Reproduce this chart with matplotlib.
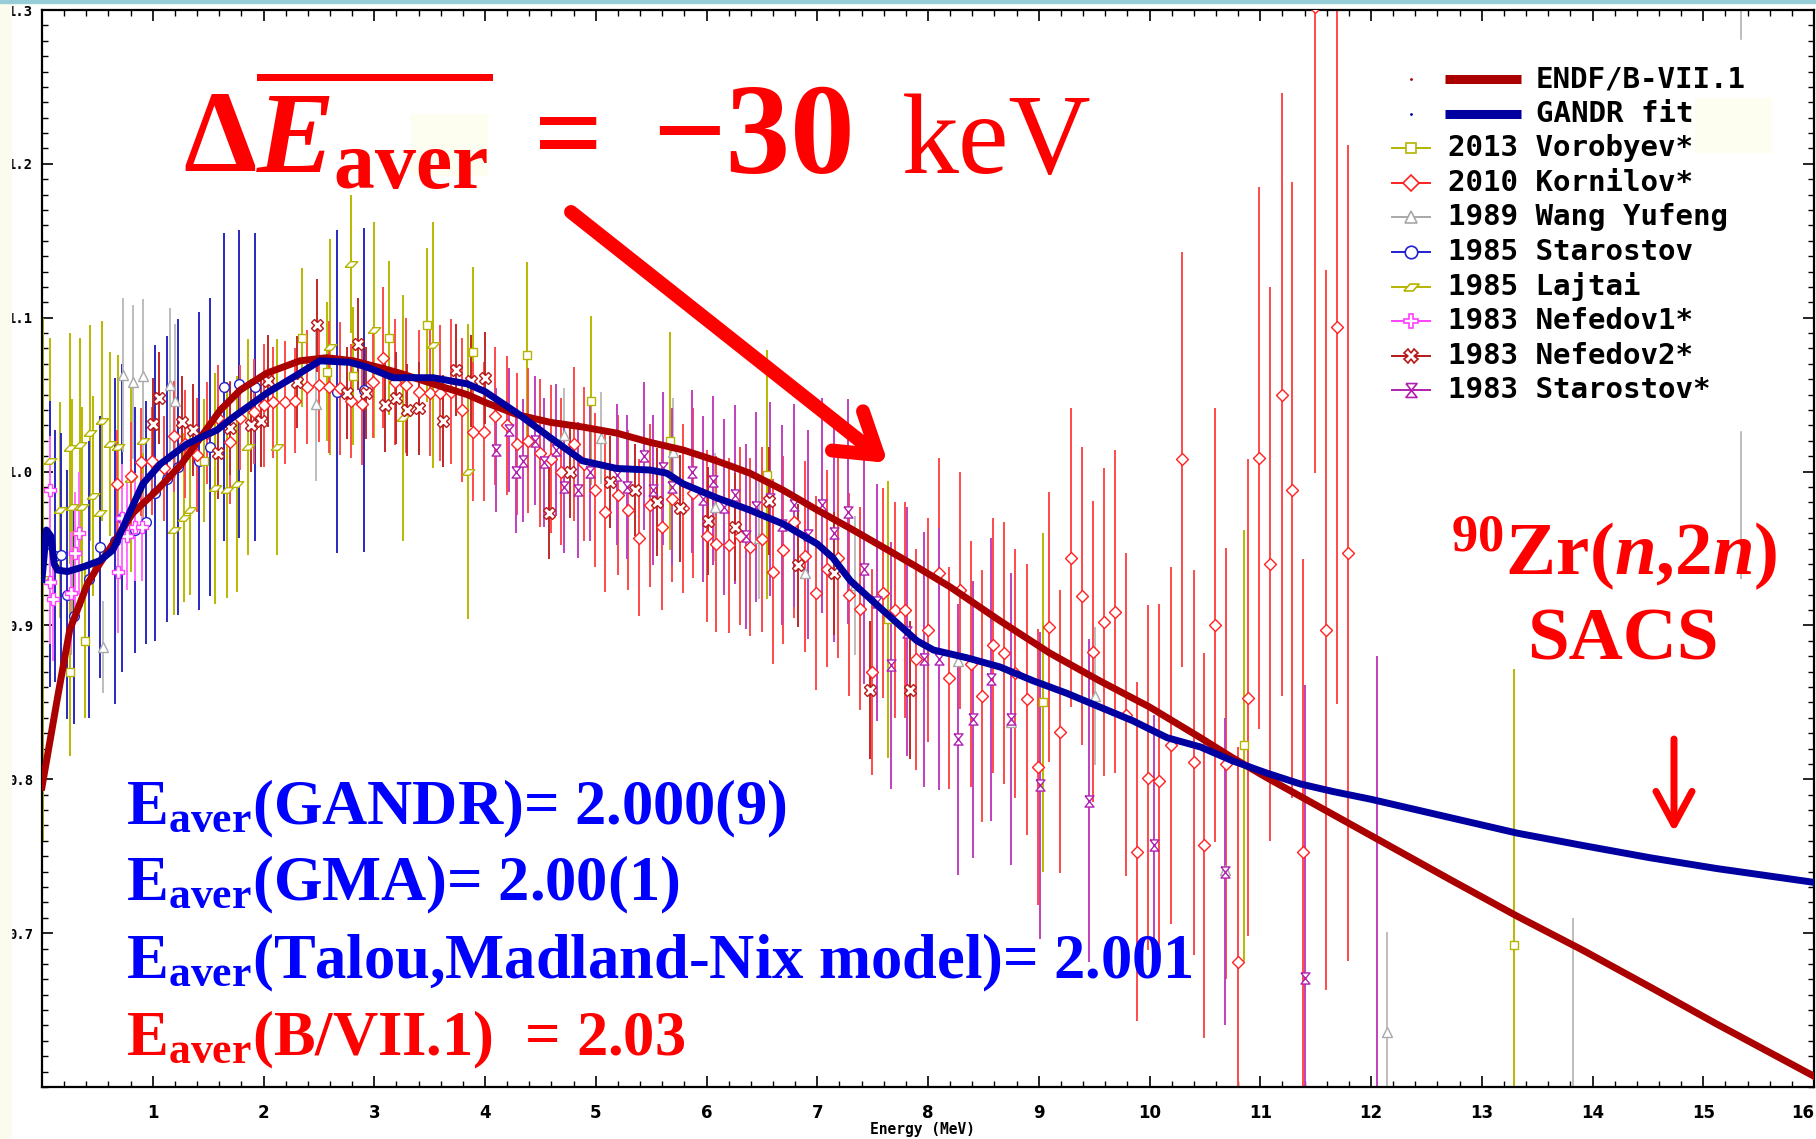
import numpy as np
import matplotlib.pyplot as plt
from matplotlib.lines import Line2D
from matplotlib.patches import Rectangle
from matplotlib.ticker import MultipleLocator

plt.rcParams['mathtext.fontset'] = 'custom'
plt.rcParams['mathtext.rm'] = 'Liberation Serif:bold'
plt.rcParams['mathtext.bf'] = 'Liberation Serif:bold'
plt.rcParams['mathtext.it'] = 'Liberation Serif:italic:bold'
plt.rcParams['mathtext.sf'] = 'Liberation Serif'

# evaluated spectra (ratio to Maxwellian)
endf_e = [0.0, 0.14, 0.25, 0.41, 0.52, 0.64, 0.82, 1.04, 1.26, 1.43, 1.61, 1.79, 2.03,
          2.33, 2.57, 2.81, 3.08, 3.23, 3.53, 3.84, 4.0, 4.29, 4.59, 4.88, 5.19, 5.49,
          5.79, 6.09, 6.39, 6.69, 7.0, 7.30, 7.59, 7.90, 8.2, 8.65, 9.10, 9.55, 10.0,
          10.46, 10.75, 11.06, 11.36, 11.81, 12.26, 12.71, 13.32, 13.91, 14.52, 15.12, 16.0]
endf_y = [0.795, 0.853, 0.897, 0.927, 0.940, 0.953, 0.973, 0.988, 1.005, 1.022, 1.040,
          1.053, 1.064, 1.072, 1.074, 1.072, 1.067, 1.064, 1.057, 1.050, 1.045, 1.037,
          1.032, 1.029, 1.025, 1.019, 1.014, 1.007, 0.999, 0.988, 0.975, 0.963, 0.951,
          0.938, 0.925, 0.903, 0.882, 0.864, 0.847, 0.827, 0.814, 0.801, 0.789, 0.771,
          0.753, 0.735, 0.711, 0.689, 0.665, 0.641, 0.607]

gandr_e = [0.0, 0.04, 0.08, 0.11, 0.14, 0.23, 0.37, 0.52, 0.64, 0.77, 0.91, 1.07, 1.31,
           1.58, 1.72, 2.03, 2.33, 2.51, 2.78, 2.93, 3.17, 3.53, 3.84, 4.0, 4.29, 4.59,
           4.88, 5.19, 5.49, 5.64, 5.79, 6.09, 6.39, 6.69, 7.0, 7.14, 7.30, 7.59, 7.90,
           8.05, 8.35, 8.65, 8.95, 9.25, 9.55, 9.85, 10.16, 10.46, 10.75, 11.06, 11.36,
           11.66, 12.0, 12.42, 13.32, 13.91, 14.52, 15.12, 16.0]
gandr_y = [0.93, 0.962, 0.958, 0.940, 0.936, 0.935, 0.938, 0.942, 0.949, 0.970, 0.992,
           1.005, 1.018, 1.027, 1.035, 1.051, 1.064, 1.072, 1.071, 1.068, 1.061, 1.061,
           1.057, 1.052, 1.038, 1.022, 1.007, 1.002, 1.001, 0.999, 0.992, 0.983, 0.975,
           0.966, 0.953, 0.944, 0.929, 0.910, 0.890, 0.884, 0.879, 0.873, 0.864, 0.856,
           0.847, 0.838, 0.827, 0.821, 0.812, 0.804, 0.797, 0.792, 0.787, 0.780, 0.765,
           0.757, 0.749, 0.742, 0.733]

# experimental data: energy (MeV), ratio, uncertainty
vorobyev_e = [0.25, 0.39, 1.46, 2.35, 2.57, 2.81, 3.13, 3.48, 3.89, 4.38, 4.96, 5.67,
              6.55, 7.64, 9.04, 10.85, 13.29]
vorobyev_y = [0.870, 0.890, 1.007, 1.087, 1.065, 1.062, 1.087, 1.095, 1.078, 1.076,
              1.046, 1.020, 0.998, 0.904, 0.850, 0.822, 0.692]
vorobyev_err = [0.055, 0.05, 0.04, 0.045, 0.045, 0.045, 0.05, 0.05, 0.055, 0.06, 0.055,
                0.071, 0.081, 0.09, 0.11, 0.14, 0.18]

kornilov_e = [0.68, 0.80, 0.89, 0.99, 1.10, 1.19, 1.29, 1.40, 1.49, 1.59, 1.70, 1.79,
              1.91, 2.00, 2.09, 2.19, 2.28, 2.39, 2.50, 2.59, 2.69, 2.79, 2.89, 2.99,
              3.08, 3.19, 3.29, 3.40, 3.50, 3.59, 3.69, 3.79, 3.89, 3.99, 4.09, 4.20,
              4.29, 4.39, 4.50, 4.60, 4.69, 4.80, 4.89, 4.99, 5.08, 5.20, 5.29, 5.39,
              5.49, 5.60, 5.69, 5.79, 5.88, 6.00, 6.09, 6.20, 6.30, 6.39, 6.50, 6.60,
              6.69, 6.79, 6.89, 6.99, 7.09, 7.19, 7.29, 7.39, 7.49, 7.59, 7.70, 7.79,
              7.89, 8.00, 8.10, 8.19, 8.29, 8.39, 8.49, 8.59, 8.69, 8.79, 8.89, 8.99,
              9.09, 9.19, 9.29, 9.39, 9.49, 9.59, 9.69, 9.79, 9.89, 9.99, 10.09, 10.19,
              10.29, 10.40, 10.49, 10.59, 10.69, 10.80, 10.89, 10.99, 11.09, 11.20,
              11.29, 11.39, 11.49, 11.59, 11.69, 11.79]
kornilov_y = [0.992, 0.997, 1.006, 1.007, 1.002, 1.023, 1.018, 1.011, 1.025, 1.035,
              1.019, 1.035, 1.039, 1.043, 1.045, 1.045, 1.046, 1.055, 1.056, 1.055,
              1.054, 1.046, 1.044, 1.058, 1.074, 1.058, 1.056, 1.052, 1.051, 1.051,
              1.052, 1.040, 1.026, 1.026, 1.036, 1.030, 1.018, 1.020, 1.012, 1.008,
              1.000, 1.018, 1.005, 0.988, 0.974, 0.985, 0.975, 0.957, 0.978, 0.964,
              0.982, 0.976, 0.986, 0.958, 0.953, 0.952, 0.958, 0.951, 0.956, 0.935,
              0.949, 0.967, 0.945, 0.921, 0.937, 0.944, 0.920, 0.911, 0.870, 0.921,
              0.910, 0.910, 0.878, 0.897, 0.934, 0.866, 0.923, 0.875, 0.854, 0.887,
              0.882, 0.869, 0.852, 0.808, 0.899, 0.831, 0.944, 0.919, 0.883, 0.902,
              0.909, 0.842, 0.753, 0.801, 0.799, 0.822, 1.008, 0.811, 0.757, 0.900,
              0.810, 0.681, 0.853, 1.009, 0.940, 1.050, 0.988, 0.753, 1.302, 0.897,
              1.094, 0.947]
kornilov_err = [0.035, 0.035, 0.035, 0.035, 0.034, 0.036, 0.035, 0.037, 0.033, 0.034,
                0.040, 0.034, 0.034, 0.040, 0.036, 0.040, 0.034, 0.037, 0.037, 0.043,
                0.043, 0.037, 0.040, 0.036, 0.046, 0.041, 0.044, 0.040, 0.041, 0.044,
                0.047, 0.047, 0.045, 0.045, 0.045, 0.045, 0.046, 0.047, 0.048, 0.048,
                0.048, 0.050, 0.050, 0.050, 0.052, 0.052, 0.052, 0.051, 0.053, 0.054,
                0.054, 0.055, 0.055, 0.056, 0.057, 0.057, 0.058, 0.058, 0.060, 0.060,
                0.061, 0.062, 0.062, 0.063, 0.064, 0.065, 0.066, 0.066, 0.067, 0.068,
                0.070, 0.070, 0.072, 0.073, 0.075, 0.072, 0.077, 0.080, 0.082, 0.083,
                0.085, 0.081, 0.088, 0.090, 0.088, 0.092, 0.097, 0.097, 0.098, 0.100,
                0.105, 0.105, 0.110, 0.112, 0.115, 0.116, 0.135, 0.125, 0.125, 0.141,
                0.140, 0.140, 0.155, 0.176, 0.180, 0.196, 0.200, 0.190, 0.303, 0.234,
                0.245, 0.265]

wang_e = [0.55, 0.73, 0.82, 0.91, 1.16, 1.20, 2.47, 4.71, 5.05, 5.70, 6.08, 6.47, 6.89,
          7.34, 8.27, 8.75, 9.51, 10.68, 12.14, 13.82, 15.34]
wang_y = [0.886, 1.063, 1.058, 1.062, 1.056, 1.046, 1.044, 1.024, 1.022, 1.013, 0.977,
          0.957, 0.934, 0.926, 0.877, 0.837, 0.854, 0.741, 0.636, 0.58, 1.22]
wang_err = [0.03, 0.05, 0.05, 0.05, 0.05, 0.05, 0.05, 0.03, 0.03, 0.035, 0.035, 0.04,
            0.045, 0.045, 0.03, 0.03, 0.045, 0.045, 0.065, 0.13, 0.29]

starostov85_e = [0.07, 0.12, 0.17, 0.23, 0.29, 0.42, 0.52, 0.66, 0.72, 0.84, 0.94, 1.02,
                 1.13, 1.23, 1.42, 1.52, 1.64, 1.78, 1.92, 2.66, 2.91]
starostov85_y = [0.953, 0.945, 0.946, 0.920, 0.906, 0.930, 0.951, 0.955, 0.970, 0.962,
                 0.967, 0.986, 0.995, 1.003, 1.007, 1.016, 1.055, 1.057, 1.055, 1.052,
                 1.053]
starostov85_err = [0.093, 0.082, 0.079, 0.081, 0.07, 0.09, 0.085, 0.106, 0.10, 0.08,
                   0.079, 0.096, 0.093, 0.096, 0.097, 0.097, 0.10, 0.10, 0.10, 0.105,
                   0.105]

lajtai_e = [0.01, 0.07, 0.16, 0.25, 0.27, 0.34, 0.36, 0.43, 0.46, 0.52, 0.54, 0.61,
            0.69, 0.80, 0.91, 1.19, 1.28, 1.34, 1.56, 1.67, 1.76, 1.86, 2.12, 2.60,
            2.79, 3.00, 3.26, 3.53, 3.85]
lajtai_y = [0.93, 1.007, 0.975, 1.015, 0.977, 1.017, 0.977, 1.025, 0.984, 0.973, 1.033,
            1.018, 1.016, 0.995, 1.020, 0.962, 0.970, 0.975, 0.989, 0.988, 0.992, 1.016,
            1.016, 1.081, 1.135, 1.092, 1.035, 1.082, 1.000]
lajtai_err = [0.17, 0.08, 0.07, 0.075, 0.07, 0.07, 0.065, 0.07, 0.065, 0.06, 0.065, 0.06,
              0.06, 0.06, 0.06, 0.055, 0.055, 0.055, 0.075, 0.07, 0.07, 0.07, 0.07, 0.07,
              0.045, 0.07, 0.08, 0.08, 0.096]

nefedov1_e = [0.07, 0.07, 0.10, 0.26, 0.30, 0.33, 0.69, 0.72, 0.77, 0.84, 0.90]
nefedov1_y = [0.988, 0.928, 0.917, 0.921, 0.947, 0.960, 0.935, 0.970, 0.958, 0.964, 0.964]
nefedov1_err = [0.035, 0.04, 0.04, 0.04, 0.04, 0.04, 0.04, 0.035, 0.035, 0.035, 0.035]

nefedov2_e = [1.00, 1.06, 1.26, 1.36, 1.59, 1.70, 1.89, 1.98, 2.04, 2.30, 2.48, 2.75,
              2.85, 2.93, 3.10, 3.20, 3.30, 3.40, 3.62, 3.74, 3.87, 4.00, 4.58, 4.77,
              5.13, 5.35, 5.55, 5.76, 6.01, 6.26, 6.56, 6.83, 7.15, 7.48, 7.84]
nefedov2_y = [1.031, 1.048, 1.032, 1.027, 1.012, 1.028, 1.030, 1.033, 1.059, 1.058,
              1.095, 1.051, 1.083, 1.051, 1.043, 1.048, 1.040, 1.041, 1.033, 1.066,
              1.059, 1.061, 0.973, 1.000, 0.993, 0.988, 0.980, 0.976, 0.968, 0.964,
              0.981, 0.939, 0.934, 0.858, 0.858]
nefedov2_err = [0.03] * 22 + [0.03, 0.03, 0.03, 0.03, 0.035, 0.035, 0.035, 0.035, 0.035,
                              0.04, 0.04, 0.045, 0.045]

starostov83_e = [4.10, 4.22, 4.28, 4.34, 4.45, 4.53, 4.64, 4.71, 4.84, 4.95, 5.19, 5.28,
                 5.44, 5.52, 5.61, 5.69, 5.87, 5.97, 6.06, 6.16, 6.26, 6.36, 6.45, 6.57,
                 6.68, 6.79, 6.92, 7.04, 7.15, 7.28, 7.42, 7.54, 7.67, 7.81, 7.96, 8.10,
                 8.27, 8.41, 8.57, 8.75, 9.01, 9.45, 10.04, 10.68, 11.40, 12.05]
starostov83_y = [1.014, 1.027, 1.000, 1.007, 1.020, 1.006, 1.014, 0.990, 0.988, 1.000,
                 0.998, 0.990, 1.010, 0.988, 1.002, 0.990, 1.000, 0.982, 0.994, 0.977,
                 0.985, 0.958, 0.977, 0.982, 0.965, 0.978, 0.959, 0.978, 0.960, 0.974,
                 0.937, 0.915, 0.874, 0.896, 0.878, 0.878, 0.826, 0.839, 0.865, 0.839,
                 0.796, 0.786, 0.757, 0.740, 0.671, 0.58]
starostov83_err = [0.040, 0.040, 0.040, 0.040, 0.042, 0.042, 0.043, 0.043, 0.044, 0.045,
                   0.046, 0.047, 0.048, 0.049, 0.050, 0.051, 0.053, 0.054, 0.055, 0.057,
                   0.058, 0.060, 0.062, 0.063, 0.065, 0.066, 0.068, 0.070, 0.071, 0.073,
                   0.075, 0.077, 0.080, 0.081, 0.083, 0.085, 0.088, 0.090, 0.092, 0.095,
                   0.100, 0.105, 0.085, 0.100, 0.190, 0.300]

legend_labels = ['ENDF/B-VII.1', 'GANDR fit', '2013 Vorobyev*', '2010 Kornilov*',
                 '1989 Wang Yufeng', '1985 Starostov', '1985 Lajtai', '1983 Nefedov1*',
                 '1983 Nefedov2*', '1983 Starostov*']

W, H = 1816, 1139
fig = plt.figure(figsize=(W / 100, H / 100), dpi=100)
ax = fig.add_axes([42 / W, 1 - 1087 / H, 1772 / W, 1077 / H])


def fx(x):
    return x / W


def fy(y):
    return 1 - y / H


# custom markers
para = [(-1, -0.45), (0.2, -0.45), (1, 0.45), (-0.2, 0.45), (-1, -0.45)]
hourglass = [(-0.8, 1), (0.8, 1), (-0.8, -1), (0.8, -1), (-0.8, 1)]

sets = [
    (lajtai_e, lajtai_y, lajtai_err, para, '#b4b400', '#b8b800', 9),
    (starostov85_e, starostov85_y, starostov85_err, 'o', '#2020d0', '#2828c0', 7),
    (wang_e, wang_y, wang_err, '^', '#a8a8a8', '#bdbdbd', 7),
    (nefedov1_e, nefedov1_y, nefedov1_err, 'P', '#ff40ff', '#ff70ff', 8),
    (vorobyev_e, vorobyev_y, vorobyev_err, 's', '#b4b400', '#b8b800', 6),
    (kornilov_e, kornilov_y, kornilov_err, 'D', '#ff2020', '#ff4a4a', 6.5),
    (starostov83_e, starostov83_y, starostov83_err, hourglass, '#b020b0', '#c040c0', 8),
    (nefedov2_e, nefedov2_y, nefedov2_err, 'X', '#b81818', '#c02828', 8),
]
for e, y, err, mk, col, ecol, ms in sets:
    ax.errorbar(e, y, yerr=err, fmt='none', ecolor=ecol, elinewidth=1.4, zorder=2)
for e, y, err, mk, col, ecol, ms in sets:
    ax.plot(e, y, ls='none', marker=mk, ms=ms, mfc='white', mec=col, mew=1.0, zorder=3)

ax.plot(endf_e, endf_y, color='#aa0000', lw=5, zorder=5)
ax.plot(gandr_e, gandr_y, color='#0000a0', lw=5, zorder=6)

ax.set_xlim(0, 16)
ax.set_ylim(0.6, 1.3)
ax.set_xticks(range(17))
ax.set_xticklabels([''] + [str(i) for i in range(1, 17)])
ax.xaxis.set_minor_locator(MultipleLocator(0.2))
yt = [0.7, 0.8, 0.9, 1.0, 1.1, 1.2, 1.3]
ax.set_yticks(yt)
ax.set_yticklabels(['%.1f' % v for v in yt])
ax.yaxis.set_minor_locator(MultipleLocator(0.01))
ax.tick_params(which='both', direction='in', top=True, right=True)
ax.tick_params(which='major', length=8, width=1.2)
ax.tick_params(which='minor', length=4, width=1.0)
ax.tick_params(axis='x', pad=12)
ax.tick_params(axis='y', pad=6.5)
for lbl in ax.get_xticklabels():
    lbl.set_fontfamily(['Liberation Sans Narrow', 'DejaVu Sans'])
    lbl.set_fontweight('bold')
    lbl.set_fontsize(12)
ax.get_xticklabels()[16].set_ha('right')
for lbl in ax.get_yticklabels():
    lbl.set_fontfamily('DejaVu Sans Mono')
    lbl.set_fontweight('bold')
    lbl.set_fontsize(10)
for s in ax.spines.values():
    s.set_linewidth(1.6)

ax.set_xlabel('Energy (MeV)', fontsize=10.5, fontweight='bold', family='DejaVu Sans Mono')
ax.xaxis.set_label_coords((923 - 42) / 1772, -(1122 - 1087) / 1077)

# page edges
fig.add_artist(Rectangle((0, 0), fx(11), 1, transform=fig.transFigure,
                         color='#fcfcee', zorder=1))
fig.add_artist(Rectangle((0, fy(3)), 1, 3 / H, transform=fig.transFigure,
                         color='#96cdd6', zorder=1))

# legend
fig.add_artist(Rectangle((fx(1385), fy(430)), fx(1780 - 1385), (430 - 40) / H,
                         transform=fig.transFigure, color='white', zorder=1))
fig.add_artist(Rectangle((fx(1695), fy(152)), fx(1771 - 1695), (152 - 98) / H,
                         transform=fig.transFigure, color='#fdfdf0', zorder=1.1))
row0, dy = 79, 34.6
for i, col in enumerate(['#aa0000', '#0000a0']):
    yy = fy(row0 + i * dy)
    fig.add_artist(Line2D([fx(1411)], [yy], transform=fig.transFigure, ls='none',
                          marker='.', ms=2, color=col))
    fig.add_artist(Line2D([fx(1445), fx(1521)], [yy, yy], transform=fig.transFigure,
                          color=col, lw=6.5, solid_capstyle='butt'))
    fig.text(fx(1536), yy, legend_labels[i], fontsize=21, fontweight='bold',
             family='DejaVu Sans Mono', va='center', ha='left', color='black')
leg_styles = [('s', '#b4b400', 7), ('D', '#ff2020', 8), ('^', '#a8a8a8', 9),
              ('o', '#2020d0', 9), (para, '#b4b400', 11), ('P', '#ff40ff', 10),
              ('X', '#b81818', 10), (hourglass, '#b020b0', 10)]
for j, (mk, col, ms) in enumerate(leg_styles):
    i = j + 2
    yy = fy(row0 + i * dy)
    fig.add_artist(Line2D([fx(1392), fx(1411), fx(1430)], [yy, yy, yy],
                          transform=fig.transFigure, color=col, lw=1.4, marker=mk,
                          markevery=[1], ms=ms, mfc='white', mec=col, mew=1.2))
    fig.text(fx(1448), yy, legend_labels[i], fontsize=21, fontweight='bold',
             family='DejaVu Sans Mono', va='center', ha='left', color='black')

# headline
fig.add_artist(Rectangle((fx(411), fy(175)), fx(487 - 411), (175 - 114) / H,
                         transform=fig.transFigure, color='#fdfdf0', zorder=1.1))
fig.text(fx(183), fy(173), r'$\Delta\overline{E_{\mathrm{aver}}}$', fontsize=84,
         color='red', va='baseline', ha='left', zorder=10)
fig.text(fx(534), fy(173), '=', fontsize=87, fontweight='bold', family='Liberation Serif',
         color='red', va='baseline', ha='left', zorder=10)
fig.text(fx(652), fy(173), '\u221230', fontsize=93, fontweight='bold',
         family='Liberation Serif', color='red', va='baseline', ha='left', zorder=10)
fig.text(fx(902), fy(173), 'keV', fontsize=82, family='Liberation Serif',
         color='red', va='baseline', ha='left', zorder=10)
ax.annotate('', xy=(888, H - 463), xytext=(571, H - 212), xycoords='figure pixels',
            textcoords='figure pixels', zorder=10,
            arrowprops=dict(arrowstyle='->,head_length=1.4,head_width=0.9', lw=10,
                            color='red', mutation_scale=20, shrinkA=0, shrinkB=0))

# reaction label
fig.text(fx(1614), fy(575), r'$^{90}$Zr($\mathit{n}$,2$\mathit{n}$)', fontsize=54,
         fontweight='bold', family='Liberation Serif', color='red', ha='center',
         va='baseline', zorder=10)
fig.text(fx(1623), fy(660), 'SACS', fontsize=54, fontweight='bold',
         family='Liberation Serif', color='red', ha='center', va='baseline', zorder=10)
ax.annotate('', xy=(1674, H - 832), xytext=(1674, H - 739), xycoords='figure pixels',
            textcoords='figure pixels', zorder=10,
            arrowprops=dict(arrowstyle='->,head_length=1.2,head_width=0.65', lw=5,
                            color='red', mutation_scale=20, shrinkA=0, shrinkB=0))

# average energies
eaver_lines = [('E$_{\\mathrm{aver}}$(GANDR)= 2.000(9)', 'blue', 824),
               ('E$_{\\mathrm{aver}}$(GMA)= 2.00(1)', 'blue', 900),
               ('E$_{\\mathrm{aver}}$(Talou,Madland-Nix model)= 2.001', 'blue', 978),
               ('E$_{\\mathrm{aver}}$(B/VII.1)  = 2.03', 'red', 1055)]
for txt, col, base in eaver_lines:
    fig.text(fx(126), fy(base), txt, fontsize=45, fontweight='bold',
             family='Liberation Serif', color=col, ha='left', va='baseline', zorder=10)

fig.savefig('out.png', dpi=100)
